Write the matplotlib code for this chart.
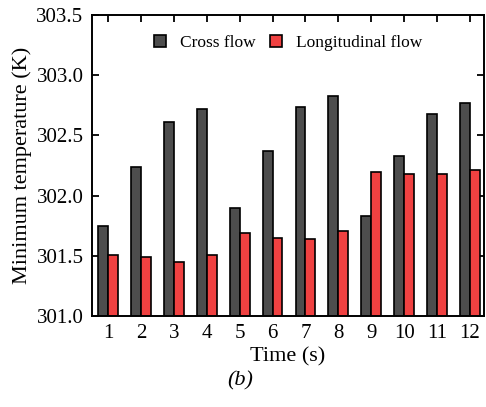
import numpy as np
import matplotlib
matplotlib.use('Agg')
import matplotlib.pyplot as plt

plt.rcParams['font.family'] = ['Liberation Serif', 'DejaVu Serif']

# data
times = [1, 2, 3, 4, 5, 6, 7, 8, 9, 10, 11, 12]
cross_flow = [301.75, 302.24, 302.61, 302.72, 301.90, 302.37,
              302.74, 302.83, 301.83, 302.33, 302.68, 302.77]
longitudinal_flow = [301.51, 301.49, 301.45, 301.51, 301.69, 301.65,
                     301.64, 301.71, 302.20, 302.18, 302.18, 302.21]
yticks = [301.0, 301.5, 302.0, 302.5, 303.0, 303.5]

fig = plt.figure(figsize=(4.86, 4.07), dpi=100)
ax = fig.add_axes([0.189, 0.2236, 0.807, 0.7394])

x = np.array(times)
w = 0.3
ax.bar(x - w / 2, cross_flow, w, color='#4d4d4d', edgecolor='black',
       linewidth=1.2, label='Cross flow', zorder=2)
ax.bar(x + w / 2, longitudinal_flow, w, color='#f04141', edgecolor='black',
       linewidth=1.2, label='Longitudinal flow', zorder=2)

ax.set_xlim(0.505, 12.43)
ax.set_ylim(301.0, 303.5)
ax.set_xticks(times)
ax.set_yticks(yticks)
ax.set_yticklabels(['%.1f' % v for v in yticks])
ax.tick_params(direction='in', top=True, right=True, length=5, width=1.3,
               labelsize=15, pad=6)
for s in ax.spines.values():
    s.set_linewidth(1.4)

ax.set_xlabel('Time (s)', fontsize=16, labelpad=3)
ax.set_ylabel('Minimum temperature (K)', fontsize=16, labelpad=3)

ax.legend(loc='upper center', bbox_to_anchor=(0.5, 0.985), ncol=2, frameon=False,
          fontsize=12.5, handlelength=0.7, handleheight=0.7, handletextpad=0.8,
          columnspacing=0.8)

fig.text(0.494, 0.065, '(b)', fontsize=16, style='italic', ha='center', va='center')

fig.savefig('out.png', dpi=100)
